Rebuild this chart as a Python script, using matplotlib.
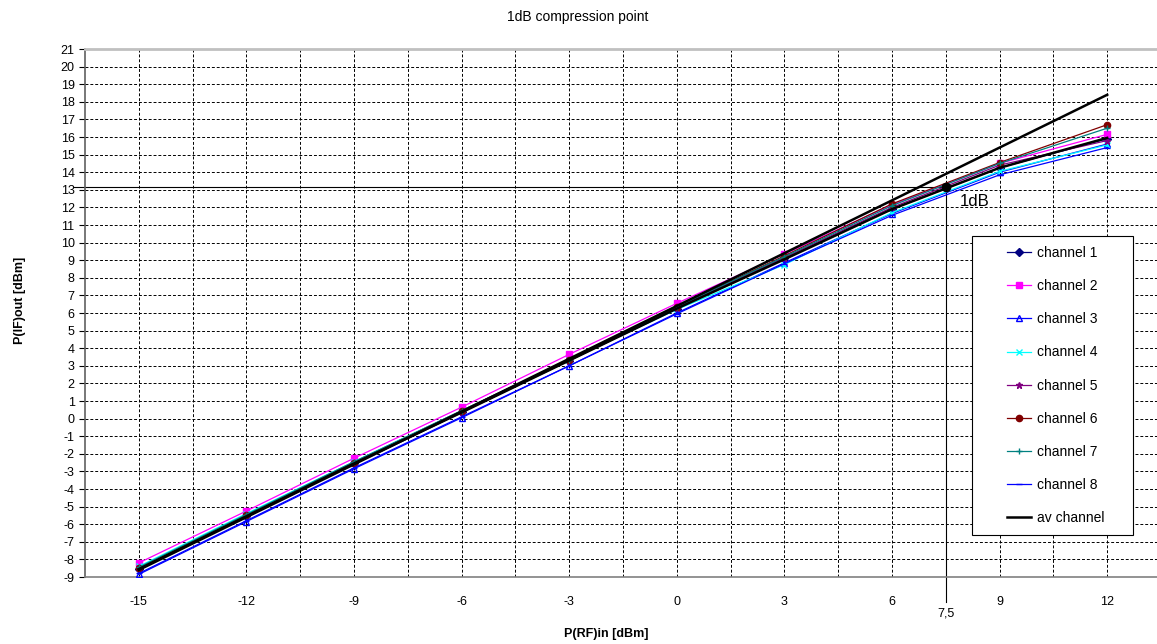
import matplotlib
matplotlib.use('Agg')
import matplotlib.pyplot as plt
from matplotlib.patches import Rectangle

plt.rcParams['font.family'] = ['Liberation Sans', 'DejaVu Sans']
plt.rcParams['axes.unicode_minus'] = False

# input power steps [dBm]
p_in = [-15, -12, -9, -6, -3, 0, 3, 6, 9, 12]

# measured output power per channel [dBm]
ch1 = [-8.55, -5.55, -2.55, 0.35, 3.3, 6.25, 9.1, 11.9, 14.25, 15.9]
ch2 = [-8.2, -5.25, -2.25, 0.65, 3.65, 6.55, 9.35, 12.15, 14.5, 16.15]
ch3 = [-8.85, -5.85, -2.85, 0.05, 3.0, 6.0, 8.85, 11.65, 14.0, 15.6]
ch4 = [-8.4, -5.4, -2.45, 0.45, 3.35, 6.2, 8.75, 11.7, 14.05, 15.55]
ch5 = [-8.5, -5.5, -2.5, 0.4, 3.3, 6.3, 9.15, 12.0, 14.4, 15.8]
ch6 = [-8.5, -5.5, -2.5, 0.45, 3.35, 6.35, 9.25, 12.2, 14.55, 16.7]
ch7 = [-8.45, -5.45, -2.45, 0.45, 3.35, 6.35, 9.2, 12.1, 14.5, 16.5]
ch8 = [-8.8, -5.8, -2.8, 0.1, 3.0, 5.95, 8.8, 11.55, 13.85, 15.4]
av = [-8.55, -5.55, -2.55, 0.35, 3.3, 6.25, 9.05, 11.9, 14.25, 15.95]

# ideal linear response
ideal_x = [-15, 12]
ideal_y = [-8.6, 18.4]

# 1dB compression point
p1db_in = 7.5
p1db_out = 13.15

channels = [
    ('channel 1', ch1, '#000080', 'D', 'full'),
    ('channel 2', ch2, '#FF00FF', 's', 'full'),
    ('channel 3', ch3, '#0000FF', '^', 'none'),
    ('channel 4', ch4, '#00FFFF', 'x', 'full'),
    ('channel 5', ch5, '#800080', '*', 'full'),
    ('channel 6', ch6, '#800000', 'o', 'full'),
    ('channel 7', ch7, '#008080', '+', 'full'),
    ('channel 8', ch8, '#0000FF', '_', 'full'),
]

fig = plt.figure(figsize=(11.57, 6.44), dpi=100)
ax = fig.add_axes([85 / 1157, 67 / 644, 1076 / 1157, 528 / 644])

for name, vals, col, mk, fill in channels:
    ax.plot(p_in, vals, color=col, lw=0.9, marker=mk, ms=4.5, fillstyle=fill,
            mew=1.0, label=name, zorder=3)
ax.plot(p_in, av, color='black', lw=1.8, label='av channel', zorder=4)
ax.plot(ideal_x, ideal_y, color='black', lw=1.8, zorder=4)

# 1dB marker lines
ax.plot([-16.8, p1db_in], [p1db_out, p1db_out], color='black', lw=0.8,
        clip_on=False, zorder=2)
ax.plot([p1db_in, p1db_in], [p1db_out, -10.4], color='black', lw=0.8,
        clip_on=False, zorder=2)
ax.plot([p1db_in], [p1db_out], 'o', color='black', ms=6, zorder=5)
ax.text(p1db_in + 0.4, p1db_out - 0.8, '1dB', fontsize=12, va='center', ha='left')
ax.text(p1db_in, -10.75, '7,5', fontsize=9, ha='center', va='top')

ax.set_xlim(-16.5, 13.5)
ax.set_ylim(-9, 21)
ax.set_yticks(range(-9, 22))
ax.set_xticks([-15, -12, -9, -6, -3, 0, 3, 6, 9, 12])
ax.set_xticks([-13.5 + 3 * i for i in range(9)], minor=True)
ax.tick_params(axis='y', labelsize=9, length=4, direction='out', width=0.8)
ax.tick_params(axis='x', which='both', labelsize=9, length=0, pad=14)

ax.grid(True, which='both', axis='x', color='black', ls=(0, (3, 2)), lw=0.7)
ax.grid(True, which='major', axis='y', color='black', ls=(0, (3, 2)), lw=0.7)
ax.set_axisbelow(True)

ax.spines['top'].set_color('#c0c0c0')
ax.spines['top'].set_linewidth(2)
ax.spines['left'].set_color('#606060')
ax.spines['left'].set_linewidth(1.2)
ax.spines['bottom'].set_color('#808080')
ax.spines['bottom'].set_linewidth(1.2)
ax.spines['right'].set_visible(False)

fig.text(578 / 1157, 1 - 17 / 644, '1dB compression point', fontsize=10,
         ha='center', va='center')
fig.text(606 / 1157, 1 - 634 / 644, 'P(RF)in [dBm]', fontsize=9,
         fontweight='bold', ha='center', va='center')
fig.text(20 / 1157, 1 - 300 / 644, 'P(IF)out [dBm]', fontsize=9,
         fontweight='bold', ha='center', va='center', rotation=90)

# legend box drawn separately (Excel-style padding)
box = Rectangle((972 / 1157, 1 - 535 / 644), 161 / 1157, 299 / 644,
                transform=fig.transFigure, facecolor='white',
                edgecolor='black', lw=0.8, zorder=6, clip_on=False)
ax.add_patch(box)
leg = ax.legend(loc='upper left', bbox_to_anchor=(1007 / 1157, 1 - 246 / 644),
                bbox_transform=fig.transFigure, fontsize=10, frameon=False,
                labelspacing=1.38, handlelength=1.75, handletextpad=0.4,
                borderpad=0, borderaxespad=0)
leg.set_zorder(7)

fig.savefig('out.png', dpi=100)
